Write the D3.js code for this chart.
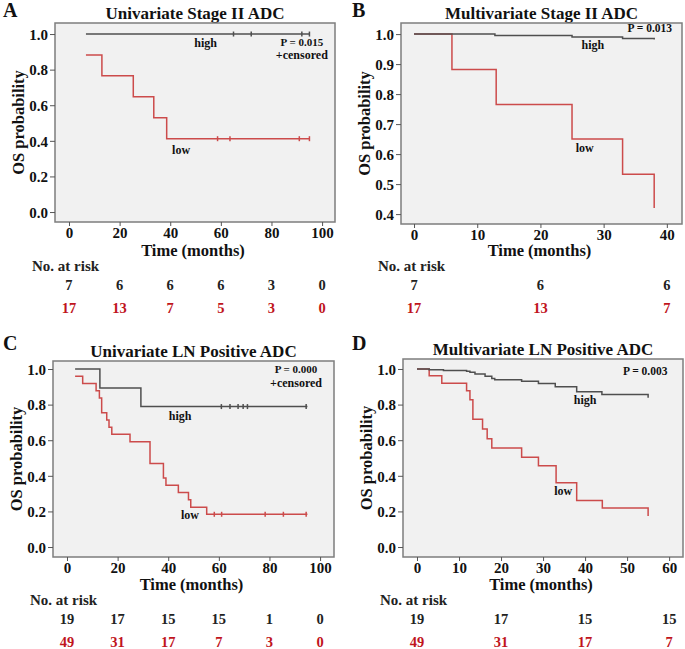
<!DOCTYPE html>
<html><head><meta charset="utf-8">
<script src="https://cdn.jsdelivr.net/npm/d3@7"></script>
<style>
body{margin:0;background:#fff;}
text{font-family:"Liberation Serif","Times New Roman",serif;font-weight:bold;}
</style></head>
<body><svg id="c" width="685" height="649"></svg>
<script>
// ---------- DATA ----------
const aTitle = "Univariate Stage II ADC";
const aXTicks = [0,20,40,60,80,100];
const aYTicks = [0.0,0.2,0.4,0.6,0.8,1.0];
const aHighTime = [6.7,95];
const aHighSurv = [1.0,1.0];
const aHighCens = [65,72,92,95];
const aLowTime = [6.7,13,25.4,33.5,38.6,95];
const aLowSurv = [0.882,0.765,0.647,0.529,0.412,0.412];
const aLowCens = [58.7,63.6,91,95];
const aRiskTime = [0,20,40,60,80,100];
const aRiskHigh = [7,6,6,6,3,0];
const aRiskLow = [17,13,7,5,3,0];

const bTitle = "Multivariate Stage II ADC";
const bXTicks = [0,10,20,30,40];
const bYTicks = [0.4,0.5,0.6,0.7,0.8,0.9,1.0];
const bHighTime = [0,12.8,25,33,38];
const bHighSurv = [1.0,0.995,0.99,0.985,0.982];
const bLowTime = [0,6,13,25,33,38];
const bLowSurv = [1.0,0.882,0.765,0.65,0.533,0.42];
const bRiskTime = [0,20,40];
const bRiskHigh = [7,6,6];
const bRiskLow = [17,13,7];

const cTitle = "Univariate LN Positive ADC";
const cXTicks = [0,20,40,60,80,100];
const cYTicks = [0.0,0.2,0.4,0.6,0.8,1.0];
const cHighTime = [3.2,13,29.2,95];
const cHighSurv = [1.0,0.894,0.789,0.789];
const cHighCens = [61,64.4,67.6,69.6,71.3,94.5];
const cLowTime = [3.2,6.2,11.5,12.8,13.7,15.7,16.6,17.7,24.9,32.8,38.1,39.1,44,48,48.9,55.2,95];
const cLowSurv = [0.959,0.918,0.878,0.837,0.755,0.714,0.673,0.633,0.592,0.469,0.388,0.347,0.306,0.265,0.224,0.184,0.184];
const cLowCens = [58.2,61.1,78.3,85.5,94.5];
const cRiskTime = [0,20,40,60,80,100];
const cRiskHigh = [19,17,15,15,1,0];
const cRiskLow = [49,31,17,7,3,0];

const dTitle = "Multivariate LN Positive ADC";
const dXTicks = [0,10,20,30,40,50,60];
const dYTicks = [0.0,0.2,0.4,0.6,0.8,1.0];
const dHighTime = [0,2.9,6.3,11.8,12.6,13.8,16.2,17.8,18.5,24.9,28.9,32.9,38,44,55];
const dHighSurv = [1.0,0.996,0.991,0.987,0.981,0.972,0.959,0.946,0.94,0.931,0.919,0.9,0.872,0.857,0.838];
const dLowTime = [0,2.9,5.9,11.8,12.6,13.3,15.6,16.7,17.8,24.9,28.9,33.1,38,44.1,55];
const dLowSurv = [1.0,0.962,0.92,0.878,0.827,0.718,0.663,0.608,0.556,0.504,0.457,0.361,0.262,0.219,0.174];
const dRiskTime = [0,20,40,60];
const dRiskHigh = [19,17,15,15];
const dRiskLow = [49,31,17,7];

// ---------- STYLE / LAYOUT ----------
const HIGH = "#4f4f4f", LOW = "#cc4b4b", RISKRED = "#c0141c";
const svg = d3.select("#c");

const panels = [
  {letter:"A", lx:3, ly:17, title:aTitle, box:[55,23,335,222], xd:[-5.53,105.1], yd:[-0.056,1.062],
   xTicks:aXTicks, yTicks:aYTicks, high:[aHighTime,aHighSurv,aHighCens], low:[aLowTime,aLowSurv,aLowCens],
   risk:[aRiskTime,aRiskHigh,aRiskLow], base:0,
   notes:[["high",54,0.927,12],["P = 0.015",92,0.935,11],["+censored",92,0.862,12],["low",44.3,0.326,12]]},
  {letter:"B", lx:352, ly:17, title:bTitle, box:[401,23,682,224], xd:[-2.06,42.4], yd:[0.367,1.037],
   xTicks:bXTicks, yTicks:bYTicks, high:[bHighTime,bHighSurv,[]], low:[bLowTime,bLowSurv,[]],
   risk:[bRiskTime,bRiskHigh,bRiskLow], base:0,
   notes:[["high",28.3,0.95,12],["P = 0.013",37.3,1.007,11.5],["low",27,0.607,12]]},
  {letter:"C", lx:3, ly:350, title:cTitle, box:[53,361,334,557], xd:[-5.53,105.5], yd:[-0.056,1.045],
   xTicks:cXTicks, yTicks:cYTicks, high:[cHighTime,cHighSurv,cHighCens], low:[cLowTime,cLowSurv,cLowCens],
   risk:[cRiskTime,cRiskHigh,cRiskLow], base:334,
   notes:[["P = 0.000",90.5,0.978,11],["+censored",90.5,0.899,12],["high",44.7,0.713,12],["low",48.6,0.157,12]]},
  {letter:"D", lx:352, ly:350, title:dTitle, box:[403,359,683,557], xd:[-3.33,63.3], yd:[-0.056,1.056],
   xTicks:dXTicks, yTicks:dYTicks, high:[dHighTime,dHighSurv,[]], low:[dLowTime,dLowSurv,[]],
   risk:[dRiskTime,dRiskHigh,dRiskLow], base:334,
   notes:[["P = 0.003",54.3,0.966,11.5],["high",40,0.803,12],["low",34.8,0.292,12]]}
];

panels.forEach(p => {
  const [x0,y0,x1,y1] = p.box;
  const g = svg.append("g");
  const x = d3.scaleLinear().domain(p.xd).range([x0,x1]);
  const y = d3.scaleLinear().domain(p.yd).range([y1,y0]);

  g.append("text").attr("x",p.lx).attr("y",p.ly).attr("font-size",20).attr("fill","#111").text(p.letter);
  g.append("text").attr("x",(x0+x1)/2).attr("y",y0-4).attr("text-anchor","middle")
    .attr("font-size",17).attr("fill","#111").text(p.title);

  g.append("rect").attr("x",x0).attr("y",y0).attr("width",x1-x0).attr("height",y1-y0)
    .attr("fill","#f1f1f1").attr("stroke","#7d7d7d").attr("stroke-width",1.5);

  const fmt = d3.format(".1f");
  const ya = g.append("g").attr("transform",`translate(${x0},0)`)
    .call(d3.axisLeft(y).tickValues(p.yTicks).tickFormat(fmt).tickSize(5).tickPadding(2));
  ya.select(".domain").remove();
  ya.selectAll("line").attr("stroke","#555");
  ya.selectAll("text").attr("font-size",15).attr("fill","#111").attr("font-family",null).attr("dy","0.35em");

  const xa = g.append("g").attr("transform",`translate(0,${y1})`)
    .call(d3.axisBottom(x).tickValues(p.xTicks).tickFormat(d3.format("d")).tickSize(4).tickPadding(1));
  xa.select(".domain").remove();
  xa.selectAll("line").attr("stroke","#555");
  xa.selectAll("text").attr("font-size",15).attr("fill","#111").attr("font-family",null);

  g.append("text").attr("transform",`translate(${x0-31},${(y0+y1)/2}) rotate(-90)`)
    .attr("text-anchor","middle").attr("font-size",16.5).attr("fill","#111").text("OS probability");
  g.append("text").attr("x",(x0+x1)/2 - 2).attr("y",p.base+256).attr("text-anchor","middle")
    .attr("font-size",16.5).attr("fill","#111").text("Time (months)");
  g.append("text").attr("x",x0-23).attr("y",p.base+271)
    .attr("font-size",15).attr("fill","#222").text("No. at risk");

  const [rt,rh,rl] = p.risk;
  g.selectAll(".rh").data(rt).enter().append("text").attr("x",d=>x(d)).attr("y",p.base+290)
    .attr("text-anchor","middle").attr("font-size",14.5).attr("fill","#222").text((d,i)=>rh[i]);
  g.selectAll(".rl").data(rt).enter().append("text").attr("x",d=>x(d)).attr("y",p.base+313)
    .attr("text-anchor","middle").attr("font-size",14.5).attr("fill",RISKRED).text((d,i)=>rl[i]);

  const line = d3.line().x(d=>x(d[0])).y(d=>y(d[1])).curve(d3.curveStepAfter);
  const drawCurve = (c,col) => {
    const [t,s,cens] = c;
    const pts = t.map((v,i)=>[v,s[i]]);
    g.append("path").attr("d",line(pts)).attr("fill","none").attr("stroke",col).attr("stroke-width",1.5);
    cens.forEach(ct => {
      let sv = s[0];
      for (let i=0;i<t.length;i++) if (t[i] <= ct) sv = s[i];
      g.append("line").attr("x1",x(ct)).attr("x2",x(ct)).attr("y1",y(sv)-2.5).attr("y2",y(sv)+2.5)
        .attr("stroke",col).attr("stroke-width",1.5);
    });
  };
  drawCurve(p.low,LOW);
  drawCurve(p.high,HIGH);

  p.notes.forEach(n => {
    g.append("text").attr("x",x(n[1])).attr("y",y(n[2])).attr("text-anchor","middle")
      .attr("font-size",n[3]).attr("fill","#111").text(n[0]);
  });
});
</script></body></html>
